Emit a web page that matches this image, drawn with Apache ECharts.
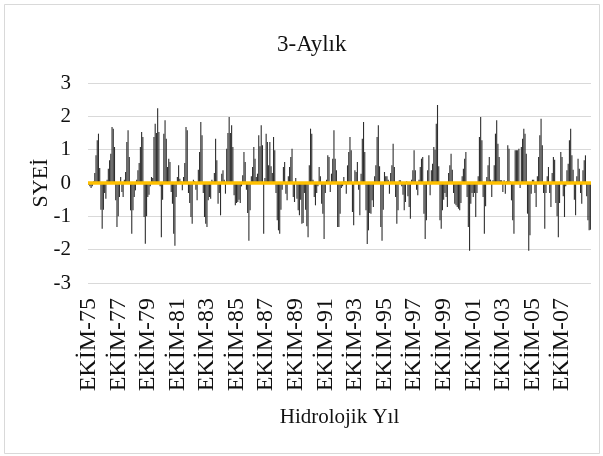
<!DOCTYPE html>
<html>
<head>
<meta charset="utf-8">
<script src="https://cdn.jsdelivr.net/npm/echarts@6/dist/echarts.min.js"></script>
<style>
  html, body { margin: 0; padding: 0; background: #ffffff; }
  #chart { width: 603px; height: 456px; }
</style>
</head>
<body>
<div id="chart"></div>
<script>
// Hydrological months (Oct .. Sep) and hydrological years
var monthNames = ['EKİM', 'KASIM', 'ARALIK', 'OCAK', 'ŞUBAT', 'MART', 'NİSAN', 'MAYIS', 'HAZİRAN', 'TEMMUZ', 'AĞUSTOS', 'EYLÜL'];
var startYears = ['75','76','77','78','79','80','81','82','83','84','85','86','87','88','89','90','91','92','93','94','95','96','97','98','99','00','01','02','03','04','05','06','07','08'];
var endYears   = ['76','77','78','79','80','81','82','83','84','85','86','87','88','89','90','91','92','93','94','95','96','97','98','99','00','01','02','03','04','05','06','07','08','09'];

// 3-month SYEİ values, one row per hydrological year (Oct..Sep)
var syei = [
  -0.05, -0.10, -0.15, -0.10,  0.05,  0.30,  0.83,  1.28,  1.48,  0.45, -0.80, -1.37,
  -0.80, -0.30, -0.47,  0.10,  0.43,  0.68,  0.88,  1.68,  1.63,  1.08, -0.52, -1.32,
  -1.00, -0.42,  0.18, -0.27, -0.42,  0.10,  0.33,  1.23,  1.58,  0.78, -0.82, -1.52,
  -0.82, -0.42, -0.22,  0.10,  0.38,  0.60,  1.08,  1.53,  1.38, -1.02, -1.82, -1.00,
  -0.42, -0.35, -0.10,  0.18,  0.15,  1.38,  1.78,  1.50,  2.24,  1.53, -0.10, -1.63,
  -0.50,  1.48,  1.88,  1.33,  0.48,  0.73,  0.63, -0.27, -0.62, -1.52, -1.88, -0.42,
   0.18,  0.53,  0.13,  0.05, -0.22,  0.18,  0.60,  1.68,  1.58, -0.30, -0.60, -1.02,
  -1.22,  0.10,  0.05, -0.20, -0.52,  0.40,  0.93,  1.83,  1.43, -0.30, -1.02, -1.22,
  -1.32, -0.52, -0.42, -0.47,  0.10,  0.05,  0.30,  1.33,  0.68, -0.62, -0.30, -0.97,
   0.28,  0.38,  0.10, -0.32,  1.03,  1.50,  1.98,  1.50,  1.73,  1.08, -0.37, -0.67,
  -0.60, -0.57, -0.50, -0.60, -0.10,  0.23,  0.93,  0.63, -0.20, -0.90, -1.73, -0.82,
   0.20,  0.48,  1.08,  0.73,  0.18,  0.28,  1.43,  1.10,  1.73,  1.13, -1.52,  0.15,
   1.48,  1.23,  0.53,  1.23,  0.50,  0.30,  1.38,  0.98, -0.30, -1.12, -1.42, -1.52,
  -0.80, -0.20,  0.48,  0.63, -0.32, -0.52,  0.20,  0.48,  0.78,  1.03, -0.42, -0.57,
   0.15, -0.47, -0.82, -0.97, -0.50, -1.22, -1.20, -0.30, -0.80, -1.30, -1.63,  0.53,
   1.63,  1.48,  0.10, -0.42, -0.67, -0.30, -0.10,  0.48,  0.20, -0.62, -0.92, -1.68,
  -0.30,  0.10,  0.83,  0.78, -0.27,  0.28,  0.73,  1.58,  0.73,  0.38, -1.32, -1.32,
  -0.92, -0.15, -0.10,  0.18,  0.05, -0.32,  0.53,  0.93,  1.38,  0.98, -0.87, -1.27,
   0.38,  0.33,  0.63, -0.20, -0.97,  0.28,  1.33,  1.83,  0.93, -0.82, -1.83, -1.42,
  -0.90, -0.92, -0.52, -0.72,  0.20,  0.53,  1.38,  1.73,  0.50, -1.32, -1.73, -0.80,
   0.33,  0.20,  0.20,  0.10, -0.32,  0.30,  0.53,  1.18,  0.48, -0.42, -1.22, -0.82,
   0.08,  0.08, -0.10, -0.35, -0.82, -0.57,  0.05, -0.40, -0.72, -1.07,  0.10,  0.38,
   0.98,  0.38, -0.20, -0.37,  0.10,  0.48,  0.73,  0.78, -0.92, -1.68, -1.12,  0.38,
   0.83, -0.37,  0.38,  0.58,  1.08,  1.00,  1.78,  2.34,  0.50, -1.12, -1.37, -0.82,
  -0.50, -0.30, -0.42, -0.72,  0.30,  0.53,  0.88,  0.40, -0.30, -0.62, -0.67, -0.72,
  -0.77, -0.82, -0.60,  0.20,  0.43,  0.73,  0.93, -0.42, -1.32, -2.03, -0.62, -0.30,
  -0.42, -0.30, -1.02, -0.30,  0.20,  1.38,  1.98,  1.28, -0.42, -1.52, -0.70,  0.18,
   0.53,  0.78,  0.10, -0.42,  0.08,  0.53,  1.48,  1.88,  1.18,  0.78,  0.08,  0.08,
  -0.27,  0.08, -0.32,  0.05,  1.13,  1.03,  0.05, -0.52, -1.12, -1.52,  0.98,  0.98,
   0.98,  1.03, -0.15,  1.08,  1.33,  1.63,  1.48,  0.88, -0.92, -2.03, -1.57, -0.32,
   0.10,  0.10, -0.30, -0.72,  0.20,  0.78,  1.43,  1.93,  1.13, -0.30, -1.37, -0.30,
   0.20,  0.48, -0.30, -0.72,  0.30,  0.78,  0.70, -0.60, -1.00, -1.63, -0.60,  0.93,
   0.78, -0.40, -1.02, -0.10,  0.38,  0.58,  1.28,  1.63,  0.83,  0.40, -0.50, -0.97,
   0.20,  0.73,  0.43, -0.30, -0.62,  0.38,  0.68,  0.83, -0.40, -1.12, -1.42, -1.40
];

var yTicks = { min: -3, max: 3, interval: 1 };

// Category labels: month name + calendar year (Oct-Dec -> start year, Jan-Sep -> end year)
var categories = [];
for (var y = 0; y < startYears.length; y++) {
  for (var m = 0; m < 12; m++) {
    categories.push(monthNames[m] + '-' + (m < 3 ? startYears[y] : endYears[y]));
  }
}

var serif = '"Liberation Serif", "Times New Roman", serif';
var chart = echarts.init(document.getElementById('chart'), null, { renderer: 'canvas' });

chart.setOption({
  backgroundColor: '#ffffff',
  animation: false,
  graphic: [{
    type: 'rect',
    shape: { x: 4.5, y: 4.5, width: 595, height: 449 },
    style: { fill: 'none', stroke: '#d9d9d9', lineWidth: 1 },
    silent: true,
    z: -1
  }],
  title: {
    text: '3-Aylık',
    left: 272,
    top: 28,
    textStyle: { fontFamily: serif, fontSize: 23, fontWeight: 'normal', color: '#111111' }
  },
  grid: { left: 88, right: 12, top: 83, bottom: 173, containLabel: false },
  xAxis: {
    type: 'category',
    data: categories,
    boundaryGap: true,
    name: 'Hidrolojik Yıl',
    nameLocation: 'middle',
    nameGap: 124,
    nameMoveOverlap: false,
    nameTextStyle: { fontFamily: serif, fontSize: 21, color: '#111111' },
    axisLine: { show: false, onZero: false },
    axisTick: { show: false },
    axisLabel: {
      interval: 23,
      rotate: 90,
      margin: 15,
      fontFamily: serif,
      fontSize: 24,
      color: '#111111'
    },
    splitLine: { show: false }
  },
  yAxis: {
    type: 'value',
    min: yTicks.min,
    max: yTicks.max,
    interval: yTicks.interval,
    name: 'SYEİ',
    nameLocation: 'middle',
    nameRotate: 90,
    nameGap: 36,
    nameMoveOverlap: false,
    nameTextStyle: { fontFamily: serif, fontSize: 22, color: '#111111' },
    axisLine: { show: false },
    axisTick: { show: false },
    axisLabel: { margin: 17, fontFamily: serif, fontSize: 21, color: '#111111' },
    splitLine: { lineStyle: { color: '#d9d9d9', width: 1 } }
  },
  series: [{
    type: 'bar',
    data: syei,
    barWidth: 1.1,
    itemStyle: { color: '#2e2e2e' },
    markLine: {
      silent: true,
      symbol: ['none', 'none'],
      label: { show: false },
      lineStyle: { color: '#FFC000', width: 3.5, type: 'solid' },
      data: [{ yAxis: 0 }]
    }
  }]
});
</script>
</body>
</html>
